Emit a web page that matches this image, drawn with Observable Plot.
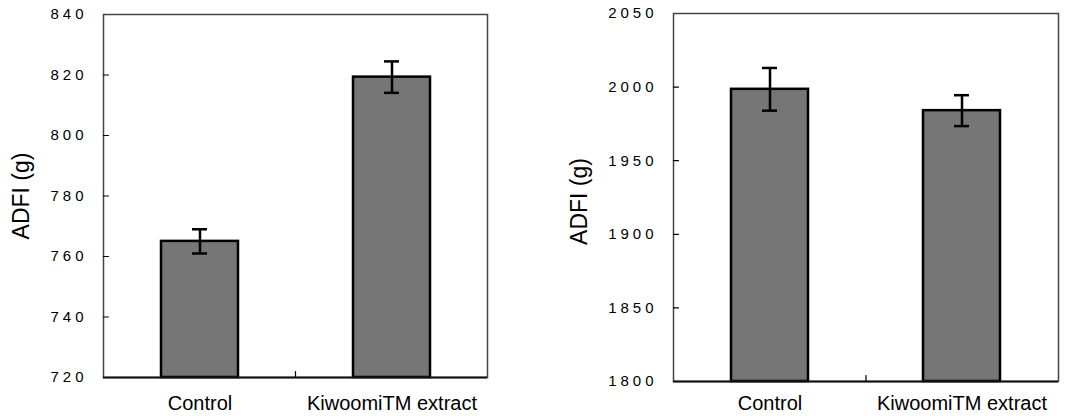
<!DOCTYPE html>
<html>
<head>
<meta charset="utf-8">
<script src="https://cdn.jsdelivr.net/npm/d3@7"></script>
<script src="https://cdn.jsdelivr.net/npm/@observablehq/plot@0.6"></script>
<style>
  html, body { margin: 0; padding: 0; background: #fff; }
  #wrap { display: flex; width: 1066px; height: 416px; }
  svg [aria-label="y-axis tick label"] text { letter-spacing: 4px; }
</style>
</head>
<body>
<div id="wrap"></div>
<script>
const categories = ["Control", "KiwoomiTM extract"];
const yLabel = "ADFI (g)";

// Left panel
const adfiLeft = [765, 819.3];
const errLeft = [4, 5.2];
const ticksLeft = [720, 740, 760, 780, 800, 820, 840];

// Right panel
const adfiRight = [1998.5, 1984];
const errRight = [14.5, 10.5];
const ticksRight = [1800, 1850, 1900, 1950, 2000, 2050];

const tickShape = {draw(context, l) { context.moveTo(0, 0); context.lineTo(0, -l); }};

function panel(values, errs, ticks, m, labelDx, labelDy, xPad) {
  const data = categories.map((c, i) => ({cat: c, v: values[i], e: errs[i]}));
  const yMin = ticks[0], yMax = ticks[ticks.length - 1];
  return Plot.plot({
    width: 533,
    height: 416,
    marginLeft: m.left,
    marginRight: m.right,
    marginTop: m.top,
    marginBottom: m.bottom,
    style: {fontFamily: "'Liberation Sans', Arial, sans-serif", color: "#000", background: "#fff", overflow: "visible"},
    x: {domain: categories, paddingInner: 0.6, paddingOuter: 0.3, label: null},
    y: {domain: [yMin, yMax], label: null},
    marks: [
      Plot.barY(data, {x: "cat", y1: yMin, y2: "v", fill: "#767676", stroke: "#000", strokeWidth: 2.5}),
      Plot.ruleX(data, {x: "cat", y1: d => d.v - d.e, y2: d => d.v + d.e, stroke: "#000", strokeWidth: 2.5}),
      Plot.tickY(data, {x: "cat", y: d => d.v - d.e, stroke: "#000", strokeWidth: 2.5, insetLeft: 31, insetRight: 31}),
      Plot.tickY(data, {x: "cat", y: d => d.v + d.e, stroke: "#000", strokeWidth: 2.5, insetLeft: 31, insetRight: 31}),
      Plot.frame({stroke: "#444", strokeWidth: 1.5}),
      Plot.ruleY([yMin], {stroke: "#111", strokeWidth: 2}),
      Plot.vector(ticks.slice(1, -1), {y: d => d, frameAnchor: "left", rotate: 90, length: 5, anchor: "start", shape: tickShape, stroke: "#000", strokeWidth: 1.2}),
      Plot.vector([0], {frameAnchor: "bottom", rotate: 0, length: 6, anchor: "start", shape: tickShape, stroke: "#000", strokeWidth: 1.2}),
      Plot.axisY({ticks: ticks, tickSize: 0, tickPadding: 16, fontSize: 15, tickFormat: d => String(d)}),
      Plot.axisX({tickSize: 0, tickPadding: xPad, fontSize: 20}),
      Plot.text([yLabel], {frameAnchor: "left", textAnchor: "middle", lineAnchor: "middle", rotate: -90, dx: labelDx, dy: labelDy, fontSize: 23, fill: "#000"})
    ]
  });
}

const wrap = document.getElementById("wrap");
wrap.appendChild(panel(adfiLeft, errLeft, ticksLeft, {left: 103, right: 46, top: 14, bottom: 39}, -82, 0, 18));
wrap.appendChild(panel(adfiRight, errRight, ticksRight, {left: 140, right: 8, top: 13, bottom: 35}, -94, 4, 14));
</script>
</body>
</html>
